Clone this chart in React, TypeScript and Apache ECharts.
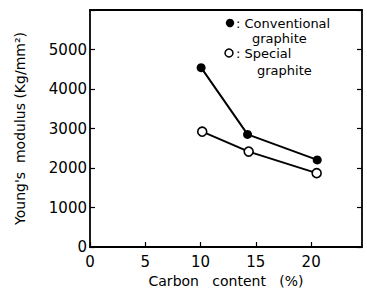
import React, { useEffect, useRef } from "react";
import * as echarts from "echarts";

const carbonConventional = [10.05, 14.25, 20.55];
const modulusConventional = [4540, 2850, 2205];
const carbonSpecial = [10.15, 14.35, 20.5];
const modulusSpecial = [2920, 2415, 1870];
const xTicks = [0, 5, 10, 15, 20];
const yTicks = [0, 1000, 2000, 3000, 4000, 5000];

const FONT = "DejaVu Sans";

export default function App() {
  const ref = useRef<HTMLDivElement>(null);
  useEffect(() => {
    if (!ref.current) return;
    const chart = echarts.init(ref.current, undefined, { renderer: "svg" });
    const axisLine = { show: true, onZero: false, lineStyle: { color: "#000", width: 1.8 } };
    const tick = { show: true, inside: true, length: 5, lineStyle: { color: "#000", width: 1.2 } };
    chart.setOption({
      animation: false,
      backgroundColor: "#fff",
      grid: { left: 90, right: 5, top: 10, bottom: 45, containLabel: false },
      xAxis: [
        {
          type: "value",
          min: 0,
          max: 24.6,
          interval: 5,
          axisLine,
          axisTick: tick,
          splitLine: { show: false },
          axisLabel: {
            color: "#000",
            fontFamily: FONT,
            fontSize: 15,
            margin: 7,
            showMaxLabel: false,
            formatter: (v: number) => (xTicks.includes(v) ? String(v) : ""),
          },
          name: "Carbon   content   (%)",
          nameLocation: "middle",
          nameGap: 27,
          nameTextStyle: { color: "#000", fontFamily: FONT, fontSize: 14 },
        },
        {
          type: "value",
          position: "top",
          min: 0,
          max: 24.6,
          axisLine,
          axisTick: { show: false },
          axisLabel: { show: false },
          splitLine: { show: false },
        },
      ],
      yAxis: [
        {
          type: "value",
          min: 0,
          max: 6000,
          interval: 1000,
          axisLine,
          axisTick: tick,
          splitLine: { show: false },
          axisLabel: {
            color: "#000",
            fontFamily: FONT,
            fontSize: 15,
            margin: 3,
            formatter: (v: number) => (yTicks.includes(v) ? String(v) : ""),
          },
          name: "Young's  modulus (Kg/mm²)",
          nameLocation: "middle",
          nameGap: 63,
          nameRotate: 90,
          nameTextStyle: { color: "#000", fontFamily: FONT, fontSize: 14 },
        },
        {
          type: "value",
          position: "right",
          min: 0,
          max: 6000,
          interval: 1000,
          axisLine,
          axisTick: tick,
          axisLabel: { show: false },
          splitLine: { show: false },
        },
      ],
      series: [
        {
          name: "Conventional graphite",
          type: "line",
          data: carbonConventional.map((x, i) => [x, modulusConventional[i]]),
          symbol: "circle",
          symbolSize: 9,
          lineStyle: { color: "#000", width: 2 },
          itemStyle: { color: "#000" },
        },
        {
          name: "Special graphite",
          type: "line",
          data: carbonSpecial.map((x, i) => [x, modulusSpecial[i]]),
          symbol: "circle",
          symbolSize: 9,
          lineStyle: { color: "#000", width: 2 },
          itemStyle: { color: "#fff", borderColor: "#000", borderWidth: 1.6 },
        },
      ],
      graphic: [
        { type: "circle", shape: { cx: 230, cy: 23, r: 4.2 }, style: { fill: "#000" } },
        {
          type: "text",
          x: 236,
          y: 23,
          style: { text: ": Conventional", fontFamily: FONT, fontSize: 13, fill: "#000", verticalAlign: "middle" },
        },
        {
          type: "text",
          x: 252,
          y: 38,
          style: { text: "graphite", fontFamily: FONT, fontSize: 13, fill: "#000", verticalAlign: "middle" },
        },
        { type: "circle", shape: { cx: 229, cy: 53, r: 4 }, style: { fill: "#fff", stroke: "#000", lineWidth: 1.5 } },
        {
          type: "text",
          x: 236,
          y: 53,
          style: { text: ": Special", fontFamily: FONT, fontSize: 13, fill: "#000", verticalAlign: "middle" },
        },
        {
          type: "text",
          x: 257,
          y: 70,
          style: { text: "graphite", fontFamily: FONT, fontSize: 13, fill: "#000", verticalAlign: "middle" },
        },
      ],
    });
    return () => chart.dispose();
  }, []);
  return (
    <div
      ref={ref}
      style={{ position: "fixed", left: 0, top: 0, width: 367, height: 293, background: "#fff" }}
    />
  );
}
